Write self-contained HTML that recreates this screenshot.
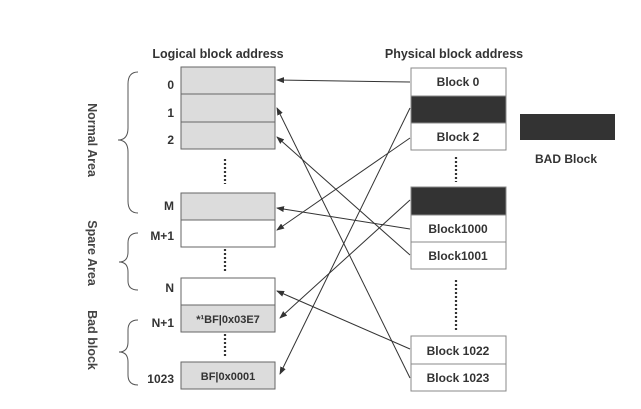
<!DOCTYPE html>
<html><head><style>
body{margin:0;background:#fff;}
svg{display:block;font-family:"Liberation Sans",Arial,sans-serif;font-weight:bold;}
</style></head><body>
<svg width="641" height="409" viewBox="0 0 641 409" xmlns="http://www.w3.org/2000/svg">
<defs>
<marker id="a" markerWidth="8" markerHeight="6" refX="7" refY="3" orient="auto" markerUnits="userSpaceOnUse">
<path d="M0,0 L8,3 L0,6 Z" fill="#333"/></marker>
</defs>
<g fill="#333" font-size="12.5">
<text x="218" y="58" text-anchor="middle">Logical block address</text>
<text x="454" y="58" text-anchor="middle">Physical block address</text>
</g>
<!-- logical boxes -->
<g stroke="#666" stroke-width="1">
<rect x="181" y="67" width="94" height="27" fill="#dcdcdc"/>
<rect x="181" y="94" width="94" height="28" fill="#dcdcdc"/>
<rect x="181" y="122" width="94" height="27" fill="#dcdcdc"/>
<rect x="181" y="193" width="94" height="27" fill="#dcdcdc"/>
<rect x="181" y="220" width="94" height="27" fill="#fff"/>
<rect x="181" y="278" width="94" height="27" fill="#fff"/>
<rect x="181" y="305" width="94" height="27" fill="#dcdcdc"/>
<rect x="181" y="362" width="94" height="27" fill="#dcdcdc"/>
</g>
<!-- physical boxes -->
<g stroke="#888" stroke-width="1">
<rect x="411" y="68" width="95" height="28" fill="#fff"/>
<rect x="411" y="96" width="95" height="27" fill="#333"/>
<rect x="411" y="123" width="95" height="27" fill="#fff"/>
<rect x="411" y="187" width="95" height="28" fill="#333"/>
<rect x="411" y="215" width="95" height="27" fill="#fff"/>
<rect x="411" y="242" width="95" height="27" fill="#fff"/>
<rect x="411" y="336" width="95" height="28" fill="#fff"/>
<rect x="411" y="364" width="95" height="27" fill="#fff"/>
</g>
<rect x="520" y="114" width="95" height="26" fill="#333"/>
<g fill="#333" font-size="12" text-anchor="middle">
<text x="566" y="163">BAD Block</text>
<text x="458" y="86">Block 0</text>
<text x="458" y="141">Block 2</text>
<text x="458" y="233">Block1000</text>
<text x="458" y="260">Block1001</text>
<text x="458" y="355">Block 1022</text>
<text x="458" y="382">Block 1023</text>
<text x="228" y="323" font-size="11">*¹BF|0x03E7</text>
<text x="228" y="380" font-size="11">BF|0x0001</text>
</g>
<g fill="#333" font-size="12" text-anchor="end">
<text x="174" y="89">0</text>
<text x="174" y="117">1</text>
<text x="174" y="144">2</text>
<text x="174" y="210">M</text>
<text x="174" y="240">M+1</text>
<text x="174" y="292">N</text>
<text x="174" y="327">N+1</text>
<text x="174" y="383">1023</text>
</g>
<!-- dots -->
<g stroke="#333" stroke-width="2.2" stroke-dasharray="2,2">
<line x1="225" y1="159" x2="225" y2="184"/>
<line x1="225" y1="249" x2="225" y2="273"/>
<line x1="225" y1="334" x2="225" y2="358"/>
<line x1="456" y1="157" x2="456" y2="182"/>
<line x1="456" y1="280" x2="456" y2="330"/>
</g>
<!-- braces -->
<g fill="none" stroke="#555" stroke-width="1">
<path d="M138,72 Q128,72 128,84 L128,128 Q128,140 118,140 Q128,140 128,152 L128,201 Q128,213 138,213"/>
<path d="M138,233 Q128,233 128,243 L128,252 Q128,262 119,262 Q128,262 128,272 L128,281 Q128,290 138,290"/>
<path d="M138,320 Q128,320 128,330 L128,342 Q128,352 119,352 Q128,352 128,362 L128,375 Q128,385 138,385"/>
</g>
<g fill="#444" font-size="12.5" text-anchor="middle">
<text transform="translate(88,140) rotate(90)">Normal Area</text>
<text transform="translate(88,253) rotate(90)">Spare Area</text>
<text transform="translate(88,340) rotate(90)">Bad block</text>
</g>
<!-- connectors -->
<g stroke="#333" stroke-width="1" marker-end="url(#a)">
<line x1="410" y1="82" x2="277" y2="80"/>
<line x1="410" y1="108" x2="280" y2="374"/>
<line x1="410" y1="138" x2="277" y2="230"/>
<line x1="410" y1="378" x2="277" y2="108"/>
<line x1="410" y1="255" x2="277" y2="137"/>
<line x1="410" y1="229" x2="277" y2="208"/>
<line x1="410" y1="200" x2="280" y2="318"/>
<line x1="410" y1="349" x2="277" y2="291"/>
</g>
</svg>
</body></html>
